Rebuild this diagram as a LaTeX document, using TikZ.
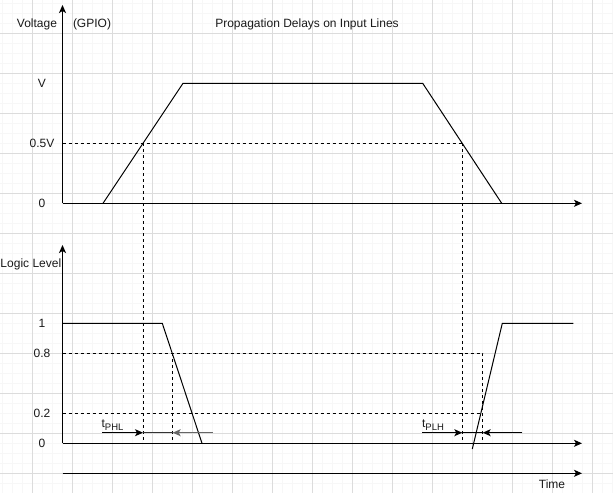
\documentclass[tikz,border=0pt]{standalone}
\usepackage{fontspec}
\setmainfont{Liberation Sans}
\usetikzlibrary{arrows.meta}
\definecolor{gridminor}{HTML}{F7F7F7}
\definecolor{gridmajor}{HTML}{DCDCDC}
\definecolor{txt}{HTML}{1A1A1A}
\newcommand{\mysub}[1]{\raisebox{-2.5pt}{\fontsize{9.5}{10}\selectfont #1}}
\begin{document}
\begin{tikzpicture}[x=1pt,y=-1pt,
  lbl/.style={font=\fontsize{12}{14}\selectfont, inner sep=0pt, text=txt},
  axis/.style={line width=1pt, -{Stealth[length=8pt,width=7pt,inset=2pt]}},
  sig/.style={line width=1pt},
  dsh/.style={line width=0.9pt, dash pattern=on 3pt off 3pt},
  meas/.style={line width=1pt, -{Stealth[length=8pt,width=7pt,inset=2pt]}},
  measgray/.style={meas, draw=black!60},
  minorg/.style={draw=gridminor, line width=0.8pt},
  majorg/.style={draw=gridmajor, line width=0.9pt}]
\useasboundingbox (0,0) rectangle (613,493);
\fill[white] (0,0) rectangle (613,493);
% grid
\foreach \x in {2.5,12.5,...,612.5} \draw[minorg] (\x,0) -- (\x,493);
\foreach \y in {3.3,13.3,...,493} \draw[minorg] (0,\y) -- (613,\y);
\foreach \x in {32.5,72.5,...,612.5} \draw[majorg] (\x,0) -- (\x,493);
\foreach \y in {33.3,73.3,...,493} \draw[majorg] (0,\y) -- (613,\y);

% labels
\node[lbl] (tvolt) at (37,24) {Voltage};
\node[lbl] (tgpio) at (92,24) {(GPIO)};
\node[lbl] (title) at (307,24) {Propagation Delays on Input Lines};
\node[lbl] (lv) at (42,83.3) {V};
\node[lbl] (lhalf) at (42,143.3) {0.5V};
\node[lbl] (lzero) at (42,203.3) {0};
\node[lbl, anchor=west] (tlogic) at (0.3,264) {Logic Level};
\node[lbl] (lone) at (42,323.3) {1};
\node[lbl] (leight) at (42,353.3) {0.8};
\node[lbl] (ltwo) at (42,413.3) {0.2};
\node[lbl] (lzerob) at (42,443.3) {0};
\node[lbl] (ttime) at (552,484) {Time};
\node[lbl] (tphl) at (112.5,425) {t\mysub{PHL}};
\node[lbl] (tplh) at (433,425) {t\mysub{PLH}};

% coordinates top chart
\coordinate (o1) at (62.5,203.3);
\coordinate (y1) at (62.5,5);
\coordinate (x1) at (582,203.3);
\coordinate (a) at (103,203.3);
\coordinate (b) at (183,83.3);
\coordinate (c) at (422.7,83.3);
\coordinate (d) at (501.7,203.3);
\coordinate (h0) at (62.5,143.3);
\coordinate (h1) at (143,143.3);
\coordinate (h2) at (462.3,143.3);
\coordinate (h1b) at (143,443.3);
\coordinate (h2b) at (462.3,443.3);

% bottom chart
\coordinate (o2) at (62.5,443.3);
\coordinate (y2) at (62.5,245);
\coordinate (x2) at (582,443.3);
\coordinate (t0) at (62.5,473.3);
\coordinate (t1) at (582,473.3);
\coordinate (p0) at (62.5,323.3);
\coordinate (p1) at (162.3,323.3);
\coordinate (p2) at (202,443.3);
\coordinate (q0) at (472.3,449);
\coordinate (q1) at (502.3,323.3);
\coordinate (q2) at (573.3,323.3);
\coordinate (e0) at (62.5,353.3);
\coordinate (e1) at (482.7,353.3);
\coordinate (e2) at (482.7,443.3);
\coordinate (w0) at (62.5,413.3);
\coordinate (w1) at (481,413.3);
\coordinate (f1) at (172.7,353.3);
\coordinate (f2) at (172.7,443.3);

% measurement coordinates
\coordinate (m1s) at (102,432.7);
\coordinate (m1a) at (143,432.7);
\coordinate (m1b) at (172.7,432.7);
\coordinate (m1e) at (212.7,432.7);
\coordinate (m2s) at (422.3,432.7);
\coordinate (m2a) at (462.3,432.7);
\coordinate (m2b) at (482.7,432.7);
\coordinate (m2e) at (522.3,432.7);

% dashed guides
\draw[dsh] (h0) -- (h2);
\draw[dsh] (h1) -- (h1b);
\draw[dsh] (h2) -- (h2b);
\draw[dsh] (e0) -- (e1) -- (e2);
\draw[dsh] (w0) -- (w1);
\draw[dsh] (f1) -- (f2);

% axes
\draw[axis] (o1) -- (y1);
\draw[axis] (o1) -- (x1);
\draw[axis] (o2) -- (y2);
\draw[axis] (o2) -- (x2);
\draw[axis] (t0) -- (t1);

% signals
\draw[sig, line join=miter] (a) -- (b) -- (c) -- (d);
\draw[sig] (p0) -- (p1) -- (p2);
\draw[sig] (q0) -- (q1) -- (q2);

% measurements
\draw[meas] (m1s) -- (m1a);
\draw[sig, draw=black!80] (m1a) -- (m1b);
\draw[measgray] (m1e) -- (m1b);
\draw[meas] (m2s) -- (m2a);
\draw[sig] (m2a) -- (m2b);
\draw[meas] (m2e) -- (m2b);
\end{tikzpicture}
\end{document}
